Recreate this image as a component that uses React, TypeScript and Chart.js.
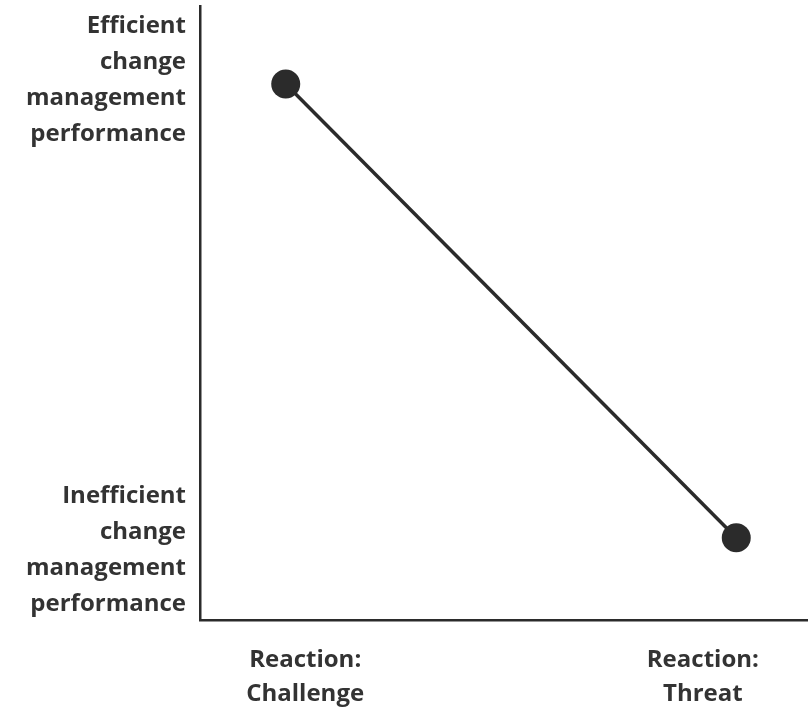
import React, { useEffect, useRef } from "react";
import { Chart, registerables } from "chart.js";

Chart.register(...registerables);

// Data (arbitrary 0–10 units on both axes)
const pointX = [1.41, 8.82];
const pointY = [8.73, 1.34];

const xTickValues = [1.73, 8.27];
const xTickLabels = [["Reaction:", "Challenge"], ["Reaction:", "Threat"]];

const yTickValues = [1.14, 8.8];
const yTickLabels = [
  ["Inefficient", "change", "management", "performance"],
  ["Efficient", "change", "management", "performance"],
];

const INK = "#2b2b2b";
const TEXT = "#333333";

const noPad = (scale: any) => {
  scale.paddingTop = 0;
  scale.paddingBottom = 0;
  scale.paddingLeft = 0;
  scale.paddingRight = 0;
};

export default function App() {
  const ref = useRef<HTMLCanvasElement | null>(null);

  useEffect(() => {
    document.body.style.margin = "0";
    const canvas = ref.current;
    if (!canvas) return;
    const chart = new Chart(canvas, {
      type: "line",
      data: {
        datasets: [
          {
            data: pointX.map((x, i) => ({ x, y: pointY[i] })),
            borderColor: INK,
            backgroundColor: INK,
            borderWidth: 3.5,
            pointRadius: 14.5,
            pointBackgroundColor: INK,
            pointBorderColor: INK,
            pointBorderWidth: 0,
            clip: false,
          } as any,
        ],
      },
      options: {
        animation: false,
        responsive: false,
        maintainAspectRatio: false,
        layout: { autoPadding: false, padding: { top: 6, right: 0, left: 0, bottom: 0 } },
        plugins: {
          legend: { display: false },
          tooltip: { enabled: false },
        },
        scales: {
          x: {
            type: "linear",
            min: 0,
            max: 10,
            grid: { display: false, drawTicks: false },
            border: { display: true, color: INK, width: 2.5 },
            afterBuildTicks: (scale: any) => {
              scale.ticks = xTickValues.map((v) => ({ value: v }));
            },
            afterFit: (scale: any) => {
              scale.height = 93;
              noPad(scale);
            },
            ticks: {
              autoSkip: false,
              maxRotation: 0,
              padding: 23,
              color: TEXT,
              font: { family: "'Open Sans'", size: 24, weight: "bold", lineHeight: 1.42 },
              callback: (_v: any, i: number) => xTickLabels[i],
            },
          },
          y: {
            type: "linear",
            min: 0,
            max: 10,
            grid: { display: false, drawTicks: false },
            border: { display: true, color: INK, width: 2.5 },
            afterBuildTicks: (scale: any) => {
              scale.ticks = yTickValues.map((v) => ({ value: v }));
            },
            afterFit: (scale: any) => {
              scale.width = 200;
              noPad(scale);
            },
            ticks: {
              autoSkip: false,
              padding: 14,
              color: TEXT,
              font: { family: "'Open Sans'", size: 24, weight: "bold", lineHeight: 1.5 },
              callback: (_v: any, i: number) => yTickLabels[i],
            },
          },
        },
      } as any,
    });
    return () => chart.destroy();
  }, []);

  return (
    <div style={{ width: 808, height: 713, position: "relative" }}>
      <canvas ref={ref} width={808} height={713} style={{ display: "block" }} />
    </div>
  );
}
